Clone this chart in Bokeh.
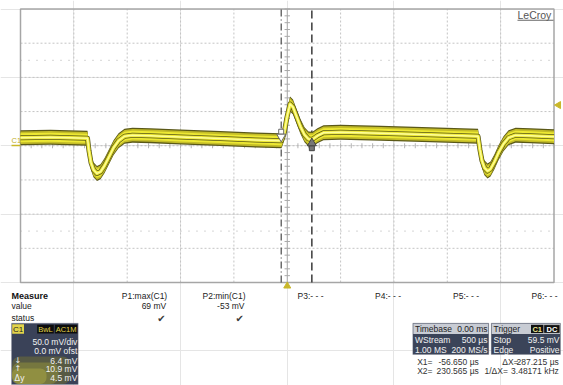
import numpy as np
from bokeh.plotting import figure
from bokeh.models import Range1d, Label, BoxAnnotation
from bokeh.embed import file_html
from bokeh.resources import INLINE

# ---------------- data ----------------
time_us = [-2500, -2219, -1872, -1858, -1839, -1816, -1783, -1750, -1713, -1675,
           -1628, -1581, -1525, -1450, -1282, -1000, -626, -298, -54, -30,
           -2, 26, 54, 87, 124, 162, 199, 237, 283, 340,
           499, 874, 1343, 1788, 1806, 1825, 1848, 1877, 1905, 1942,
           1980, 2027, 2074, 2140, 2280, 2500]
volt_mV = [11.7, 12.4, 11.0, -7.3, -24.8, -35.0, -40.5, -38.0, -29.2, -17.5,
           -2.9, 7.3, 13.9, 15.5, 14.8, 12.8, 10.5, 8.5, 7.3, 17.5,
           42.0, 61.0, 56.5, 43.0, 28.0, 16.0, 10.0, 9.5, 14.6, 19.0,
           19.7, 18.3, 16.0, 13.9, -5.8, -21.9, -32.1, -37.0, -34.0, -23.4,
           -10.2, 2.9, 11.7, 15.5, 14.6, 13.1]

time_ticks_us = [-2500, -2000, -1500, -1000, -500, 0, 500, 1000, 1500, 2000, 2500]
volt_ticks_mV = [-200, -150, -100, -50, 0, 50, 100, 150, 200]
x1_us = -56.650
x2_us = 230.565
trigger_level_mV = 59.5

measure_names = ["P1:max(C1)", "P2:min(C1)", "P3:- - -", "P4:- - -", "P5:- - -", "P6:- - -"]
measure_values = ["69 mV", "-53 mV", "", "", "", ""]
measure_status = ["\u2714", "\u2714", "", "", "", ""]

timebase_rows = [("Timebase", "0.00 ms"), ("WStream", "500 \u00b5s"), ("1.00 MS", "200 MS/s")]
trigger_rows = [("Trigger", ""), ("Stop", "59.5 mV"), ("Edge", "Positive")]
trigger_badges = ["C1", "DC"]
channel_badges = ["BwL", "AC1M"]
channel_rows = ["50.0 mV/div", "0.0 mV ofst", "6.4 mV", "10.9 mV", "4.5 mV"]
channel_syms = ["", "", "\u2193", "\u2191", "\u0394y"]

# ---------------- geometry ----------------
W, H, M = 563, 385, 0                 # canvas size, canvas offset in the page
GL, GR, GT, GB = 20.0, 553.5, 8.5, 282.0   # graticule edges in page pixels
volt_per_div = 50
kx = (time_ticks_us[-1] - time_ticks_us[0]) / (GR - GL)
ky = (volt_ticks_mV[-1] - volt_ticks_mV[0]) / (GB - GT)
xs = time_ticks_us[0] - (GL - M) * kx
ye = volt_ticks_mV[-1] + (GT - M) * ky

p = figure(width=W, height=H, output_backend="svg", toolbar_location=None,
           x_range=Range1d(xs, xs + W * kx), y_range=Range1d(ye - H * ky, ye),
           x_axis_location=None, y_axis_location=None, title=None,
           min_border=0, outline_line_color=None,
           background_fill_color="white", border_fill_color="white")

def sx(X):
    return X - M

def sy(Y):
    return H - (Y - M)

t0, t1 = time_ticks_us[0], time_ticks_us[-1]
v0, v1 = volt_ticks_mV[0], volt_ticks_mV[-1]

# ---------------- graticule ----------------
inner_t = [t for t in time_ticks_us[1:-1] if t != 0]
inner_v = [v for v in volt_ticks_mV[1:-1] if v != 0]
grid_col = "#c4c4c4"
p.segment(x0=inner_t, y0=[v0] * len(inner_t), x1=inner_t, y1=[v1] * len(inner_t),
          line_color=grid_col, line_dash="2 2", line_width=1)
p.segment(x0=[t0] * len(inner_v), y0=inner_v, x1=[t1] * len(inner_v), y1=inner_v,
          line_color=grid_col, line_dash="2 2", line_width=1)
half = 2.5 * volt_per_div
p.segment(x0=[t0, t0], y0=[half, -half], x1=[t1, t1], y1=[half, -half],
          line_color="#bdbdbd", line_dash="1 7", line_width=1.2)
# centre cross with small ticks
p.segment(x0=[0], y0=[v0], x1=[0], y1=[v1], line_color="#a9a9a9", line_width=1)
p.segment(x0=[t0], y0=[0], x1=[t1], y1=[0], line_color="#bdbdbd", line_width=1, line_dash="2 2")
tv = np.arange(v0, v1 + 0.1, 10.0)
p.segment(x0=[-2.7 * kx] * len(tv), y0=tv, x1=[2.7 * kx] * len(tv), y1=tv,
          line_color="#a9a9a9", line_width=1)
tt = np.arange(t0, t1 + 0.1, 100.0)
p.segment(x0=tt, y0=[-2.5 * ky] * len(tt), x1=tt, y1=[2.5 * ky] * len(tt),
          line_color="#b5b5b5", line_width=1)
p.quad(left=[t0], right=[t1], bottom=[v0], top=[v1], fill_color=None,
       line_color="#a6a6a6", line_width=1.5)

# ---------------- cursors ----------------
p.segment(x0=[x1_us], y0=[v0], x1=[x1_us], y1=[v1], line_color="#4a4a4a",
          line_width=1.2, line_dash="7 3 1 3")
p.segment(x0=[x2_us], y0=[v0], x1=[x2_us], y1=[v1], line_color="#3a3a3a",
          line_width=1.5, line_dash="8 4")

# ---------------- trace (persistence band) ----------------
tv_arr = np.array(volt_mV, dtype=float)
for hw, col in [(7.5, "#5a5818"), (6.2, "#c4bd28"), (4.4, "#ede833"), (1.7, "#fdfd9c")]:
    p.varea(x=time_us, y1=tv_arr - hw * ky, y2=tv_arr + hw * ky, fill_color=col)
p.line(time_us, volt_mV, line_width=5, line_color="#5a5818", line_join="round")
p.line(time_us, volt_mV, line_width=3.5, line_color="#ede833", line_join="round")
p.line(time_us, volt_mV, line_width=1.5, line_color="#fdfd9c", line_join="round")

# cursor markers on the trace
v_x1 = float(np.interp(x1_us, time_us, volt_mV))
v_x2 = float(np.interp(x2_us, time_us, volt_mV))
p.scatter([x1_us], [v_x1 + 9 * ky], marker="square", size=5, fill_color="white", line_color="#666666")
p.scatter([x1_us], [v_x1 + 4 * ky], marker="inverted_triangle", size=9, fill_color="white", line_color="#666666")
p.scatter([x2_us], [v_x2 - 9 * ky], marker="square", size=5, fill_color="#777777", line_color="#444444")
p.scatter([x2_us], [v_x2 - 4 * ky], marker="triangle", size=9, fill_color="#777777", line_color="#444444")

# trigger markers
p.scatter([t1 + 4.5 * kx], [trigger_level_mV], marker="triangle", angle=np.pi / 2,
          size=7, fill_color="#c9b72a", line_color="#c9b72a")
p.scatter([0], [v0 - 3.5 * ky], marker="triangle", size=7,
          fill_color="#c9b72a", line_color="#c9b72a")

# ---------------- annotation helpers ----------------
FONT = "Liberation Sans"

def lab(text, X, Y, align="left", size="8.5px", color="#222222", style="normal", font=FONT):
    p.add_layout(Label(x=sx(X), y=sy(Y), x_units="screen", y_units="screen", text=text,
                       text_align=align, text_baseline="middle", text_font_size=size,
                       text_color=color, text_font_style=style, text_font=font))

def box(X0, Y0, X1, Y1, fill, line=None, alpha=1.0, lw=1, radius=0):
    p.add_layout(BoxAnnotation(left=sx(X0), right=sx(X1), top=sy(Y0), bottom=sy(Y1),
                               left_units="screen", right_units="screen",
                               top_units="screen", bottom_units="screen",
                               fill_color=fill, fill_alpha=alpha, line_color=line,
                               line_width=lw, border_radius=radius))

# channel marker left of graticule
box(11, 144.3, GL, 145.7, "#c9b72a")
lab("C1", 11, 140, size="7.5px", color="#c2ae22")

# LeCroy logo
lab("LeCroy", 517, 14.5, size="10.5px", color="#555555")
box(517, 19.3, 553, 20.3, "#666666")

# ---------------- measure table ----------------
lab("Measure", 11, 295, style="bold", color="#111111", size="9px")
lab("value", 11, 305.5)
lab("status", 11, 317)
col_right = [166.7, 245.0, 323.0, 400.5, 478.5, 557.0]
for name, val, st, xr in zip(measure_names, measure_values, measure_status, col_right):
    lab(name, xr, 295, align="right")
    if val:
        lab(val, xr - 1, 305.5, align="right")
    if st:
        lab(st, xr - 1.5, 317.5, align="right", size="10px", color="#3a3a3a", font="DejaVu Sans")

# ---------------- timebase / trigger boxes ----------------
row_y = [328.3, 339.3, 349.3]
box(412.3, 322.7, 488.3, 354.0, "#3b4459", line="#7d8290")
box(412.8, 323.2, 487.8, 333.6, "#c8ccd4")
for (l, r), y in zip(timebase_rows, row_y):
    c = "#222222" if y == row_y[0] else "#f2f2f2"
    lab(l, 414.5, y, color=c)
    lab(r, 487.0, y, align="right", color=c)

box(490.7, 322.7, 560.0, 354.0, "#3b4459", line="#7d8290")
box(491.2, 323.2, 559.5, 333.6, "#c8ccd4")
for (l, r), y in zip(trigger_rows, row_y):
    c = "#222222" if y == row_y[0] else "#f2f2f2"
    lab(l, 493.0, y, color=c)
    if r:
        lab(r, 559.0, y, align="right", color=c)
badge_x = [(530.5, 543.0), (543.5, 559.3)]
for b, (bx0, bx1) in zip(trigger_badges, badge_x):
    box(bx0, 324.3, bx1, 332.6, "#111111", line="#dddddd" if b == "DC" else None)
    lab(b, (bx0 + bx1) / 2, 328.5, align="center", size="7.5px",
        color="#f0e890" if b == "C1" else "#ffffff", style="bold")

# cursor readouts
dx = x2_us - x1_us
lab("X1=", 416.7, 361, color="#333333")
lab(f"{x1_us:.3f} \u00b5s", 478.3, 361, align="right", color="#333333")
lab("\u0394X=", 501.7, 361, color="#333333")
lab(f"{dx:.3f} \u00b5s", 558.3, 361, align="right", color="#333333")
lab("X2=", 416.7, 370, color="#333333")
lab(f"{x2_us:.3f} \u00b5s", 478.3, 370, align="right", color="#333333")
lab("1/\u0394X=", 484.0, 370, color="#333333")
lab(f"{1e3 / dx:.5f} kHz", 558.3, 370, align="right", color="#333333")

# ---------------- channel C1 box ----------------
box(11, 322.7, 77.7, 384.0, "#3a4258", line="#8a8f9a")
box(11.5, 356, 70, 383.5, "#6f6f34", alpha=0.55, radius=8)
box(11.5, 362, 58, 383.5, "#8f8f3c", alpha=0.55, radius=8)
box(11.5, 368, 46, 383.5, "#a9a844", alpha=0.5, radius=6)
box(11.7, 323.8, 23.5, 333.2, "#e3d44a")
lab("C1", 17.6, 328.6, align="center", size="8px", color="#222222")
cb_x = [(36.7, 53.3), (54.3, 76.8)]
for b, (bx0, bx1) in zip(channel_badges, cb_x):
    box(bx0, 324.3, bx1, 333.0, "#0d0d0d")
    lab(b, (bx0 + bx1) / 2, 328.7, align="center", size="7.5px", color="#e0d24a")
ch_y = [341.7, 350.0, 360.0, 368.3, 377.7]
for txt, sym, y in zip(channel_rows, channel_syms, ch_y):
    lab(txt, 76.8, y, align="right", color="#f2f2f2")
    if sym:
        lab(sym, 14, y, color="#f2f2f2", size="8px", font="DejaVu Sans")

open("out.html", "w").write(file_html(p, INLINE))
